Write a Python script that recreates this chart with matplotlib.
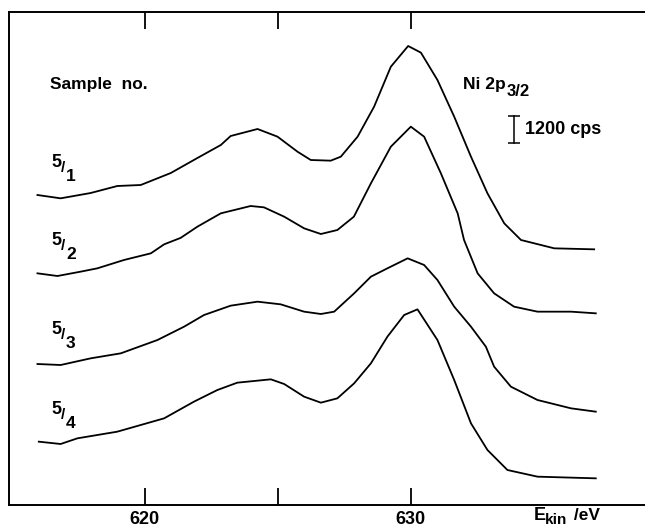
import matplotlib
matplotlib.use("Agg")
import matplotlib.pyplot as plt

# ---- data (E_kin in eV, intensity in cps incl. display offsets) ----
e1 = [615.97, 616.84, 617.97, 618.97, 619.85, 620.98, 621.98, 622.86, 623.23, 624.24,
      624.99, 625.74, 626.24, 626.99, 627.37, 628.00, 628.62, 629.25, 629.90, 630.38,
      631.00, 631.63, 632.26, 632.88, 633.51, 634.14, 635.39, 636.89]
i1 = [14400, 14250, 14490, 14805, 14850, 15390, 16065, 16650, 17055, 17370,
      17025, 16350, 15975, 15945, 16125, 17025, 18375, 20175, 21105, 20805,
      19575, 17925, 16125, 14475, 13125, 12375, 12000, 11955]

e2 = [615.97, 616.72, 617.59, 618.22, 619.22, 620.23, 620.73, 621.35, 621.98, 622.86,
      623.98, 624.48, 625.24, 625.99, 626.62, 627.24, 627.86, 628.50, 629.25, 630.00,
      630.50, 631.13, 631.76, 632.00, 632.51, 633.13, 633.88, 634.76, 636.02, 636.95]
i2 = [10875, 10755, 10950, 11100, 11475, 11775, 12180, 12470, 12975, 13575,
      13905, 13845, 13425, 12900, 12645, 12825, 13425, 14925, 16575, 17475,
      17025, 15375, 13575, 12375, 10875, 9975, 9375, 9150, 9150, 9075]

e3 = [615.97, 616.84, 617.97, 619.10, 620.48, 621.48, 622.23, 623.23, 624.24, 625.11,
      625.99, 626.62, 627.12, 627.87, 628.50, 629.12, 629.88, 630.50, 631.00, 631.63,
      632.26, 632.82, 633.13, 633.76, 634.76, 636.02, 636.95]
i3 = [6795, 6750, 7050, 7275, 7875, 8475, 9000, 9420, 9600, 9480,
      9150, 9045, 9150, 9975, 10725, 11100, 11550, 11250, 10575, 9375,
      8475, 7575, 6675, 5775, 5175, 4800, 4650]

e4 = [616.02, 616.84, 617.47, 618.97, 620.73, 621.85, 622.73, 623.48, 624.74, 625.24,
      625.99, 626.62, 627.24, 627.87, 628.50, 629.12, 629.75, 630.25, 631.00, 631.63,
      632.26, 632.88, 633.63, 634.76, 636.95]
i4 = [3300, 3195, 3450, 3750, 4350, 5100, 5625, 5955, 6105, 5895,
      5325, 5055, 5250, 5925, 6825, 8025, 9000, 9255, 7875, 6075,
      4125, 2925, 2025, 1725, 1650]

sample_labels = [("5", "1"), ("5", "2"), ("5", "3"), ("5", "4")]
xticks = [620, 625, 630]
xticklabels = ["620", "", "630"]
scale_cps = 1200

# ---- figure ----
W, H = 645, 526
fig = plt.figure(figsize=(W / 100, H / 100), dpi=100)
FONT = "Liberation Sans"
plt.rcParams["font.family"] = [FONT, "DejaVu Sans"]

ax = fig.add_axes([9 / W, (H - 505) / H, 1 - 9 / W, (505 - 12) / H])
ax.set_xlim(614.9, 638.8)
ax.set_ylim(450, 22635)

for e, i in [(e1, i1), (e2, i2), (e3, i3), (e4, i4)]:
    ax.plot(e, i, color="black", lw=1.3, solid_joinstyle="round")

for s in ["left", "top", "bottom"]:
    ax.spines[s].set_linewidth(1.4)
ax.spines["right"].set_visible(False)

ax.set_yticks([])
ax.set_xticks(xticks)
ax.set_xticklabels(xticklabels, fontsize=13, fontweight="bold")
ax.tick_params(axis="x", direction="in", length=12, width=1.3, top=True,
               bottom=True, pad=4)


def px(x, y):
    return x / W, 1 - y / H


def txt(x, y, s, size, va="baseline"):
    fig.text(*px(x, y), s, fontsize=size, fontweight="bold", ha="left", va=va)


# sample labels (5/n written as a slanted fraction)
bases = [167, 245, 334, 414]
for (num, den), b in zip(sample_labels, bases):
    txt(51, b, num, 13)
    txt(60.5, b + 5, "/", 11)
    txt(66, b + 14, den, 12.5)

txt(50, 89, "Sample  no.", 12.5)
txt(463, 89, "Ni 2p", 12.5)
txt(507, 96, "3/2", 12)

# scale bar 1200 cps
bx = 633.88
by = 16740
ax.plot([bx, bx], [by, by + scale_cps], color="black", lw=1.1)
ax.plot([bx, bx], [by, by + scale_cps], ls="none", marker="_", ms=8,
        mew=1.1, color="black")
fig.text(*px(525, 130), f"{scale_cps} cps", fontsize=13, fontweight="bold",
         ha="left", va="center")

txt(534, 520, "E", 13)
txt(545, 524, "kin", 11)
txt(569, 520, " /eV", 12.5)

fig.savefig("out.png", dpi=100)
